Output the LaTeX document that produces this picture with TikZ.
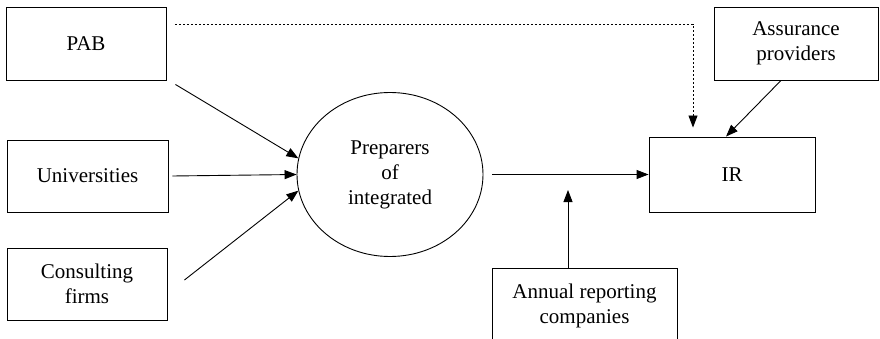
\documentclass[tikz,border=0pt]{standalone}
\usepackage{fontspec}
\setmainfont{Liberation Serif}
\newfontfamily\diagfont{Liberation Serif}
\usetikzlibrary{arrows.meta,shapes.geometric}
\begin{document}
\begin{tikzpicture}[x=1pt,y=1pt,
  every node/.style={font=\diagfont\fontsize{21}{25}\selectfont, align=center, inner sep=0pt},
  box/.style={draw, line width=0.9pt, rectangle},
  conn/.style={line width=0.9pt, -{Triangle[length=12pt,width=9pt]}},
  dotconn/.style={conn, dash pattern=on 2pt off 2pt}]
\useasboundingbox (0,0) rectangle (880,-339);
\node[box, minimum width=160, minimum height=73] (pab) at (86,-43.5) {PAB};
\node[box, minimum width=161, minimum height=72] (uni) at (87.5,-176) {Universities};
\node[box, minimum width=160, minimum height=72] (cons) at (87,-284) {Consulting\\firms};
\node[draw, ellipse, line width=0.9pt, minimum width=186, minimum height=164] (prep) at (390,-174.5) {Preparers\\of\\integrated};
\node[box, minimum width=166, minimum height=75] (ir) at (732,-174.5) {IR};
\node[box, minimum width=164, minimum height=73] (assur) at (796,-43.5) {Assurance\\providers};
\node[box, minimum width=185, minimum height=76] (annual) at (584.5,-306) {Annual reporting\\companies};
\coordinate (aend) at (568,-190);
\draw[conn] ([shift={(9,-4)}]pab.south east) -- (prep.170);
\draw[conn] ([xshift=4]uni.east) -- (prep.180);
\draw[conn] ([shift={(17,4)}]cons.east) -- (prep.190);
\draw[conn] ([xshift=9]prep.east) -- (ir.west);
\draw[conn] ([xshift=-16.5]annual.north) -- (aend);
\draw[conn] ([xshift=-15]assur.south) -- ([xshift=-6]ir.north);
\draw[dotconn] ([shift={(9,19.5)}]pab.east) -| ([shift={(-39,9)}]ir.north);
\end{tikzpicture}
\end{document}
